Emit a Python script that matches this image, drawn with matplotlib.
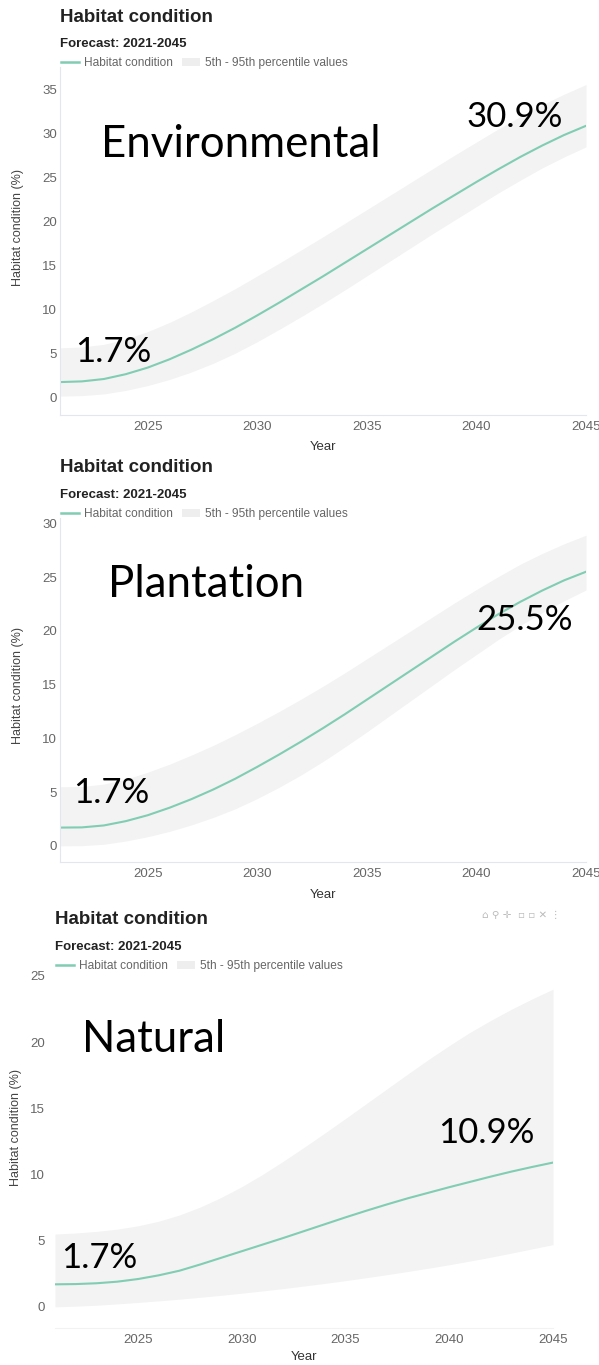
import numpy as np
import matplotlib.pyplot as plt
from matplotlib.lines import Line2D
from matplotlib.patches import Patch

W, H = 599, 1365

years = list(range(2021, 2046))

# Environmental planting
env_mid = [1.7, 1.78, 2.05, 2.6, 3.35, 4.3, 5.4, 6.6, 7.9, 9.3, 10.75, 12.25, 13.75,
           15.3, 16.85, 18.4, 19.95, 21.5, 23.0, 24.5, 25.95, 27.35, 28.65, 29.85, 30.9]
env_lo = [0.1, 0.16, 0.35, 0.75, 1.3, 2.0, 2.85, 3.85, 5.0, 6.3, 7.7, 9.15, 10.65,
          12.2, 13.8, 15.4, 17.0, 18.6, 20.15, 21.7, 23.25, 24.7, 26.1, 27.35, 28.5]
env_hi = [5.6, 5.7, 6.0, 6.6, 7.45, 8.5, 9.7, 11.0, 12.35, 13.8, 15.25, 16.75, 18.25,
          19.8, 21.35, 22.9, 24.45, 26.0, 27.55, 29.05, 30.55, 31.95, 33.3, 34.5, 35.6]

# Plantation
pla_mid = [1.7, 1.72, 1.9, 2.3, 2.85, 3.55, 4.35, 5.25, 6.25, 7.35, 8.5, 9.7, 10.95,
           12.25, 13.6, 14.95, 16.3, 17.65, 19.0, 20.3, 21.55, 22.7, 23.75, 24.7, 25.5]
pla_lo = [0.0, 0.02, 0.15, 0.45, 0.85, 1.35, 1.95, 2.65, 3.45, 4.4, 5.45, 6.6, 7.85,
          9.2, 10.6, 12.05, 13.5, 14.95, 16.4, 17.8, 19.2, 20.5, 21.7, 22.8, 23.8]
pla_hi = [5.5, 5.52, 5.75, 6.2, 6.85, 7.6, 8.45, 9.35, 10.35, 11.4, 12.5, 13.65, 14.85,
          16.1, 17.4, 18.7, 20.0, 21.3, 22.6, 23.85, 25.05, 26.2, 27.2, 28.1, 28.9]

# Natural regeneration
nat_mid = [1.7, 1.72, 1.78, 1.9, 2.1, 2.38, 2.73, 3.2, 3.7, 4.2, 4.7, 5.2, 5.72,
           6.24, 6.76, 7.26, 7.74, 8.2, 8.62, 9.04, 9.44, 9.84, 10.22, 10.57, 10.9]
nat_lo = [0.0, 0.05, 0.12, 0.22, 0.33, 0.45, 0.58, 0.72, 0.87, 1.03, 1.2, 1.38, 1.57,
          1.77, 1.98, 2.2, 2.43, 2.67, 2.92, 3.18, 3.46, 3.75, 4.06, 4.38, 4.7]
nat_hi = [5.5, 5.58, 5.7, 5.87, 6.12, 6.47, 6.94, 7.54, 8.26, 9.08, 10.0, 11.0, 12.05,
          13.13, 14.23, 15.35, 16.47, 17.59, 18.69, 19.74, 20.74, 21.64, 22.49, 23.27, 24.0]

scenarios = ["Environmental", "Plantation", "Natural"]
mids = [env_mid, pla_mid, nat_mid]
los = [env_lo, pla_lo, nat_lo]
his = [env_hi, pla_hi, nat_hi]

LINE = "#80cdb3"
BAND = "#f3f3f3"
SPINE = "#e2e7ee"
GREY = "#666666"

# layout per panel, in pixels from the top left; label y values are baselines
layout = [
    dict(box=(60, 67, 586, 415), ylim=(-2.05, 37.6), yticks=range(0, 40, 5),
         title_y=17, x0=60, name_xy=(101, 157), start_xy=(75, 362), end_xy=(467, 127),
         ylab=(18, 227), year_y=447, ypad=2, spines=True),
    dict(box=(60, 518, 586, 862), ylim=(-1.5, 30.5), yticks=range(0, 35, 5),
         title_y=468, x0=60, name_xy=(108, 597), start_xy=(73, 803), end_xy=(476, 630),
         ylab=(18, 685), year_y=895, ypad=2, spines=True),
    dict(box=(55, 972, 553, 1328), ylim=(-1.6, 25.3), yticks=range(0, 30, 5),
         title_y=920, x0=55, name_xy=(82, 1052), start_xy=(61, 1268), end_xy=(438, 1143),
         ylab=(16, 1128), year_y=1357, ypad=7, spines=False),
]


def fx(x):
    return x / W


def fy(y):
    return 1 - y / H


fig = plt.figure(figsize=(W / 100, H / 100), dpi=100)
plt.rcParams["font.family"] = ["Liberation Sans", "DejaVu Sans"]

for name, mid, lo, hi, lay in zip(scenarios, mids, los, his, layout):
    l, t, r, b = lay["box"]
    ax = fig.add_axes([fx(l), fy(b), (r - l) / W, (b - t) / H])
    ax.fill_between(years, lo, hi, color=BAND, lw=0, zorder=1)
    ax.plot(years, mid, color=LINE, lw=1.5, zorder=2, solid_joinstyle="round")
    ax.set_xlim(2021, 2045)
    ax.set_ylim(*lay["ylim"])
    ax.set_xticks([2025, 2030, 2035, 2040, 2045])
    ax.set_yticks(list(lay["yticks"]))
    ax.tick_params(length=0, labelsize=9.5, labelcolor=GREY, pad=lay["ypad"], axis="y")
    ax.tick_params(length=0, labelsize=9.5, labelcolor=GREY, pad=4, axis="x")
    for s in ["top", "right"]:
        ax.spines[s].set_visible(False)
    if lay["spines"]:
        ax.spines["left"].set_color(SPINE)
        ax.spines["bottom"].set_color(SPINE)
    else:
        ax.spines["left"].set_visible(False)
        ax.spines["bottom"].set_color("#f2f2f2")

    # chart header
    x0 = lay["x0"]
    ty = lay["title_y"]
    fig.text(fx(x0), fy(ty), "Habitat condition", fontsize=13.5, fontweight="bold",
             color="#222222", va="center")
    fig.text(fx(x0), fy(ty + 27), "Forecast: 2021-2045", fontsize=9.5, fontweight="bold",
             color="#222222", va="center")
    handles = [Line2D([], [], color=LINE, lw=1.8), Patch(color="#eeeeee", lw=0)]
    fig.legend(handles, ["Habitat condition", "5th - 95th percentile values"],
               loc="center left", bbox_to_anchor=(fx(x0 + 1), fy(ty + 46)), ncol=2,
               frameon=False, fontsize=8.6, labelcolor=GREY, handlelength=1.5,
               handleheight=0.6, handletextpad=0.4, columnspacing=0.8,
               borderpad=0, borderaxespad=0)

    fig.text(fx(lay["ylab"][0]), fy(lay["ylab"][1]), "Habitat condition (%)",
             rotation=90, fontsize=9, color="#444444", ha="center", va="center")
    fig.text(fx((l + r) / 2), fy(lay["year_y"]), "Year", fontsize=9.5,
             color="#333333", ha="center", va="center")

    # scenario labels
    fig.text(fx(lay["name_xy"][0]), fy(lay["name_xy"][1]), name, family="Lato",
             fontsize=31.5, color="black", va="baseline")
    fig.text(fx(lay["start_xy"][0]), fy(lay["start_xy"][1]), f"{mid[0]:.1f}%",
             family="Lato", fontsize=25, color="black", va="baseline")
    fig.text(fx(lay["end_xy"][0]), fy(lay["end_xy"][1]), f"{mid[-1]:.1f}%",
             family="Lato", fontsize=25, color="black", va="baseline")

# chart toolbar on the last panel
fig.text(fx(482), fy(915), "⌂ ⚲ ✛  ▫ ▫ ✕ ⋮", family="DejaVu Sans", fontsize=7.5,
         color="#bbbbbb", va="center")

fig.savefig("out.png", dpi=100)
